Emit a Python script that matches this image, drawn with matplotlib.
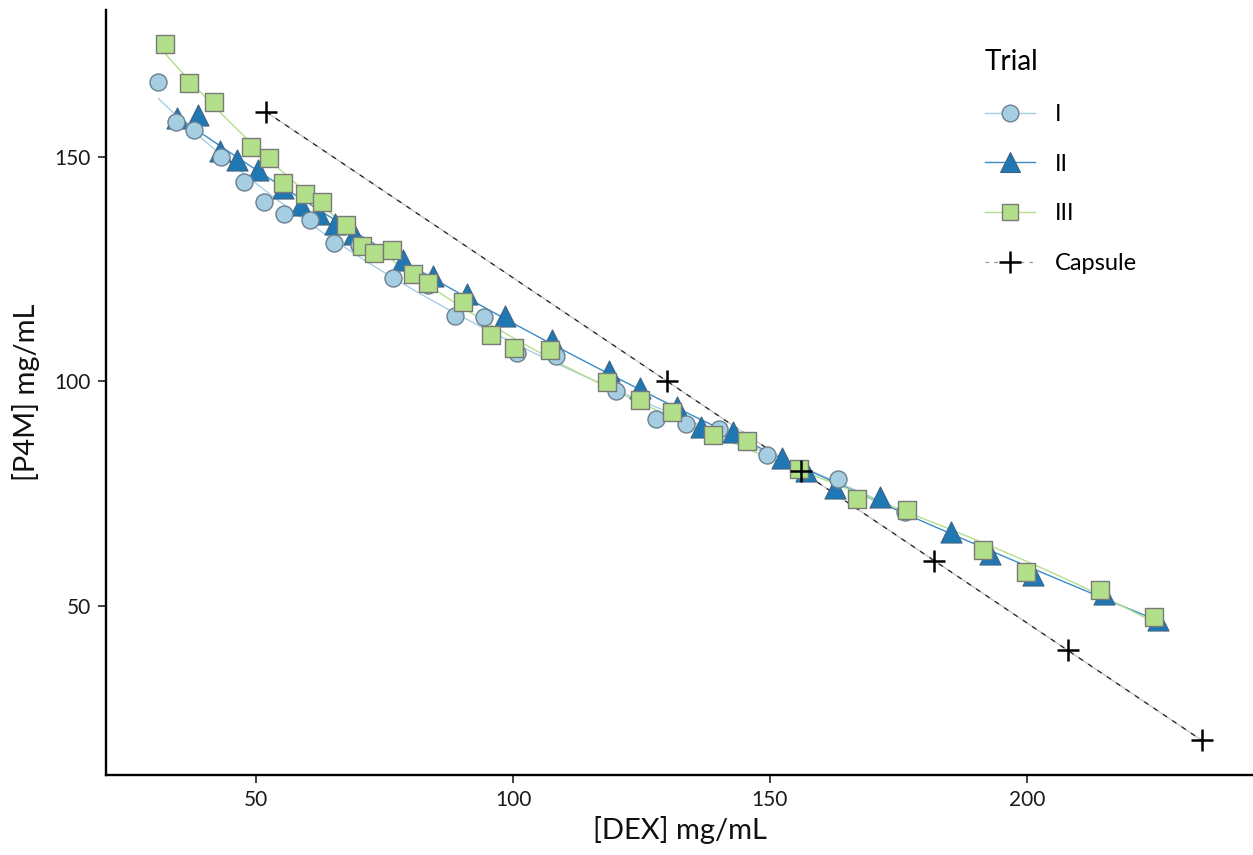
import numpy as np
import matplotlib
matplotlib.use('Agg')
import matplotlib.pyplot as plt
from matplotlib.lines import Line2D

# ---- data ----
trial1_dex = [31.0, 34.5, 38.0, 43.2, 47.6, 51.5, 55.4, 60.5, 65.2, 70.0, 76.6, 83.5,
              88.7, 94.3, 100.8, 108.3, 120.1, 127.9, 133.6, 140.0, 149.4, 163.3, 176.3]
trial1_p4m = [166.8, 157.7, 155.9, 150.0, 144.5, 139.9, 137.3, 136.0, 130.8, 130.3, 123.1, 121.4,
              114.5, 114.3, 106.3, 105.6, 97.8, 91.7, 90.5, 89.4, 83.5, 78.3, 70.9]

trial2_dex = [34.6, 38.7, 42.9, 46.3, 50.3, 55.3, 58.7, 62.3, 65.4, 69.1, 78.6, 84.4, 91.0,
              98.4, 107.6, 118.6, 124.8, 131.9, 136.6, 142.9, 152.3, 157.0, 162.7, 171.5,
              185.3, 192.9, 201.2, 215.1, 225.5]
trial2_p4m = [158.7, 159.4, 151.3, 149.3, 147.0, 143.1, 139.2, 137.2, 135.1, 132.8, 127.0, 123.5, 119.4,
              114.5, 109.1, 102.4, 98.6, 94.2, 89.8, 88.7, 83.0, 80.0, 76.3, 74.2,
              66.3, 61.5, 56.8, 52.6, 46.8]

trial3_dex = [32.3, 37.0, 41.8, 49.0, 52.6, 55.2, 59.5, 62.8, 67.5, 70.6, 72.9, 76.5, 80.6,
              83.5, 90.2, 95.8, 100.1, 107.2, 118.2, 124.7, 131.0, 138.9, 145.6, 155.6,
              166.9, 176.6, 191.5, 199.9, 214.2, 224.7]
trial3_p4m = [175.1, 166.4, 162.2, 152.3, 149.7, 144.1, 141.8, 139.9, 134.9, 130.1, 128.7, 129.3, 123.8,
              121.9, 117.7, 110.4, 107.5, 106.9, 99.8, 95.8, 93.2, 88.0, 86.7, 80.5,
              73.7, 71.3, 62.5, 57.5, 53.5, 47.4]

capsule_dex = [52, 130, 156, 182, 208, 234]
capsule_p4m = [160, 100, 80, 60, 40, 20]

series_labels = ['I', 'II', 'III', 'Capsule']
x_ticks = [50, 100, 150, 200]
y_ticks = [50, 100, 150]

# ---- style ----
plt.rcParams['font.family'] = ['Lato', 'DejaVu Sans']

c1, c2, c3 = '#A6CEE3', '#1F78B4', '#B2DF8A'

W, H = 1253, 855
fig = plt.figure(figsize=(W / 100, H / 100), dpi=100)
ax = fig.add_axes([106 / W, 1 - 775 / H, 1 - 106 / W, (775 - 10) / H])


def fit_curve(x, y, color, z):
    x = np.asarray(x); y = np.asarray(y)
    coef = np.polyfit(x, y, 3)
    xs = np.linspace(x.min(), x.max(), 200)
    ax.plot(xs, np.polyval(coef, xs), color=color, lw=1.0, zorder=z)


fit_curve(trial1_dex, trial1_p4m, c1, 2)
fit_curve(trial2_dex, trial2_p4m, '#3b8bc6', 2)
fit_curve(trial3_dex, trial3_p4m, c3, 2)

# capsule line
ax.plot(capsule_dex, capsule_p4m, color='#c8c8c8', lw=1.0, zorder=2)
ax.plot(capsule_dex, capsule_p4m, color='#222222', lw=0.9, dashes=(4, 5), zorder=2.1)

# markers
ax.scatter(trial2_dex, trial2_p4m, marker='^', s=230, color=c2, edgecolor='#3f6583',
           linewidth=0.8, zorder=3)
ax.scatter(trial1_dex, trial1_p4m, marker='o', s=150, color=c1, edgecolor='#6b7f8e',
           linewidth=1.0, zorder=4)
ax.scatter(trial3_dex, trial3_p4m, marker='s', s=150, color=c3, edgecolor='#7a7a7a',
           linewidth=1.0, zorder=5)
ax.scatter(capsule_dex, capsule_p4m, marker='+', s=260, color='black', linewidth=1.8, zorder=6)

ax.set_xlim(20.8, 244)
ax.set_ylim(12.25, 182.75)
ax.set_xticks(x_ticks)
ax.set_yticks(y_ticks)

for s in ['top', 'right']:
    ax.spines[s].set_visible(False)
for s in ['left', 'bottom']:
    ax.spines[s].set_linewidth(1.7)
    ax.spines[s].set_color('black')
ax.tick_params(length=6, width=1.3, color='#333333', labelsize=15,
               labelcolor='#1a1a1a', pad=5)

ax.set_xlabel('[DEX] mg/mL', fontsize=21, color='#111111', labelpad=4)
ax.set_ylabel('[P4M] mg/mL', fontsize=21, color='#111111', labelpad=10)

handles = [
    Line2D([], [], color=c1, lw=1.0, marker='o', markersize=12, markerfacecolor=c1,
           markeredgecolor='#6b7f8e', markeredgewidth=1.0),
    Line2D([], [], color='#3b8bc6', lw=1.0, marker='^', markersize=15, markerfacecolor=c2,
           markeredgecolor='#3f6583', markeredgewidth=0.8),
    Line2D([], [], color=c3, lw=1.0, marker='s', markersize=12, markerfacecolor=c3,
           markeredgecolor='#7a7a7a', markeredgewidth=1.0),
    Line2D([], [], color='#999999', lw=0.9, dashes=(3, 4), marker='+', markersize=16,
           markeredgecolor='black', markeredgewidth=1.8),
]
leg = ax.legend(handles, series_labels, title='Trial', loc='upper left',
                bbox_to_anchor=(985 / W, 1 - 49 / H), bbox_transform=fig.transFigure,
                frameon=False, fontsize=17, title_fontsize=20, labelspacing=1.22,
                handlelength=2.1, handletextpad=0.85, alignment='left',
                borderaxespad=0, borderpad=0)

fig.savefig('out.png', dpi=100)
